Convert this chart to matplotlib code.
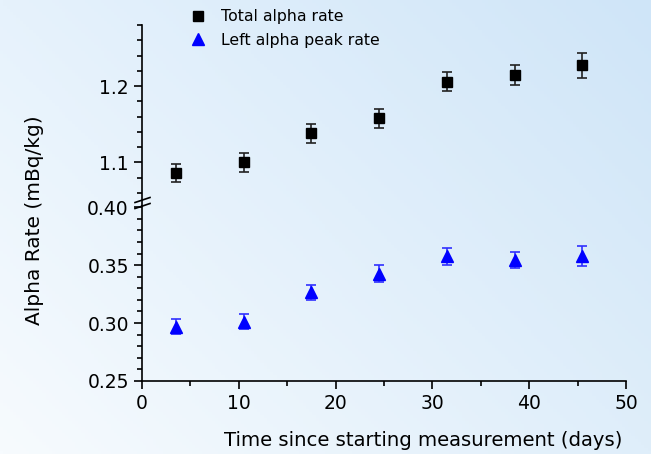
import numpy as np
import matplotlib
matplotlib.use("Agg")
import matplotlib.pyplot as plt
from matplotlib.lines import Line2D
from matplotlib.ticker import MultipleLocator

plt.rcParams['font.family'] = ['DejaVu Sans']

# data
days = [3.5, 10.5, 17.5, 24.5, 31.5, 38.5, 45.5]
total_rate = [1.086, 1.100, 1.138, 1.158, 1.206, 1.215, 1.227]
total_err = [0.012, 0.0125, 0.0123, 0.0125, 0.013, 0.013, 0.016]
left_peak_rate = [0.2967, 0.3013, 0.3265, 0.3427, 0.3575, 0.3547, 0.3580]
left_peak_err = [0.0065, 0.0067, 0.0067, 0.0070, 0.0075, 0.0070, 0.0086]

W, H = 651, 454
fig = plt.figure(figsize=(W / 100, H / 100), dpi=100)

# light blue gradient background
bg = fig.add_axes([0, 0, 1, 1], zorder=-10)
c_bl = np.array([0xf7, 0xfb, 0xfe]) / 255
c_tl = np.array([0xe6, 0xf2, 0xfc]) / 255
c_br = np.array([0xdf, 0xee, 0xfa]) / 255
c_tr = np.array([0xcf, 0xe5, 0xf8]) / 255
u = np.linspace(0, 1, 200)[None, :, None]
v = np.linspace(1, 0, 150)[:, None, None]
grad = (c_bl * (1 - u) * (1 - v) + c_br * u * (1 - v)
        + c_tl * (1 - u) * v + c_tr * u * v)
bg.imshow(grad, extent=[0, 1, 0, 1], aspect='auto')
bg.axis('off')

left, right = 142 / W, 626 / W
y_top, y_brk, y_bot = 1 - 25 / H, 1 - 206 / H, 1 - 381 / H

ax_hi = fig.add_axes([left, y_brk, right - left, y_top - y_brk])
ax_lo = fig.add_axes([left, y_bot, right - left, y_brk - y_bot])

for ax in (ax_hi, ax_lo):
    ax.set_facecolor('none')
    ax.spines['top'].set_visible(False)
    ax.spines['right'].set_visible(False)
    ax.set_xlim(0, 50)
    ax.tick_params(which='major', direction='out', length=6, width=1.2, labelsize=13.5)
    ax.tick_params(which='minor', direction='out', length=3.5, width=1.2)
    for s in ('left', 'bottom'):
        ax.spines[s].set_linewidth(1.2)

ax_hi.spines['bottom'].set_visible(False)
ax_hi.tick_params(axis='x', which='both', bottom=False, labelbottom=False)

sq = ax_hi.errorbar(days, total_rate, yerr=total_err, fmt='s', color='black',
                    ms=6.5, ecolor='#222222', elinewidth=1.2, capsize=3.5, capthick=1.2)
tri = ax_lo.errorbar(days, left_peak_rate, yerr=left_peak_err, fmt='^', color='#0000ff',
                     ms=8.5, ecolor='#3030ff', elinewidth=1.2, capsize=3.5, capthick=1.2)

ax_hi.set_ylim(1.043, 1.28)
ax_hi.yaxis.set_major_locator(MultipleLocator(0.1))
ax_hi.yaxis.set_minor_locator(MultipleLocator(0.02))
ax_hi.yaxis.set_major_formatter(plt.FormatStrFormatter('%.1f'))

ax_lo.set_ylim(0.25, 0.401)
ax_lo.yaxis.set_major_locator(MultipleLocator(0.05))
ax_lo.yaxis.set_minor_locator(MultipleLocator(0.01))
ax_lo.yaxis.set_major_formatter(plt.FormatStrFormatter('%.2f'))
ax_lo.xaxis.set_major_locator(MultipleLocator(10))
ax_lo.xaxis.set_minor_locator(MultipleLocator(5))

fig.text(423 / W, 1 - 440 / H, 'Time since starting measurement (days)', fontsize=14.1,
         ha='center', va='center')
fig.text(35 / W, 1 - 220 / H, 'Alpha Rate (mBq/kg)', rotation=90, fontsize=14.5,
         ha='center', va='center')

# axis break marks
for yy in (200, 206):
    fig.add_artist(Line2D([135 / W, 150 / W], [1 - (yy + 2.5) / H, 1 - (yy - 2.5) / H],
                          color='black', lw=1.2))

fig.legend(handles=[sq.lines[0], tri.lines[0]],
           labels=['Total alpha rate', 'Left alpha peak rate'],
           loc='upper left', bbox_to_anchor=(182 / W, 1 - 3 / H),
           frameon=False, fontsize=11.3, handlelength=1.2, handletextpad=0.9,
           labelspacing=0.55, borderaxespad=0)

fig.savefig('out.png', dpi=100)
